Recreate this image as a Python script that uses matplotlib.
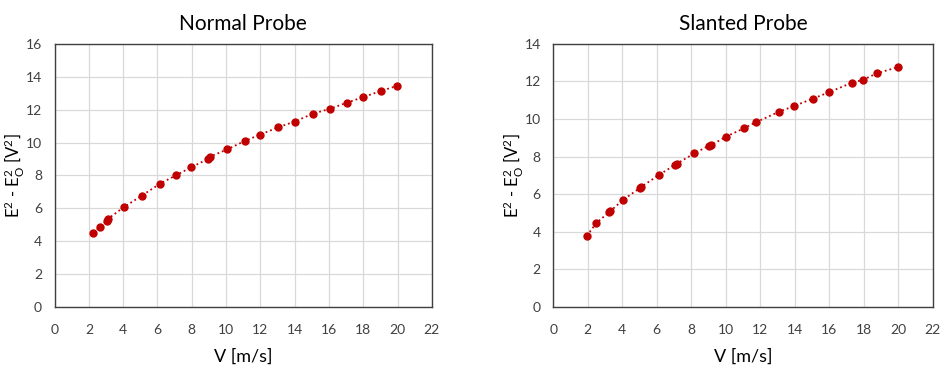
import matplotlib
matplotlib.use("Agg")
import matplotlib.pyplot as plt

plt.rcParams['font.family'] = ['Lato', 'DejaVu Sans']
plt.rcParams['mathtext.fontset'] = 'custom'
plt.rcParams['mathtext.rm'] = 'Lato'
plt.rcParams['mathtext.it'] = 'Lato:italic'

# Calibration data: velocity V [m/s] vs E^2 - E0^2 [V^2]
normal_v = [2.25, 2.62, 3.05, 3.10, 4.07, 5.10, 6.13, 7.06, 7.97, 8.96, 9.08,
            10.05, 11.08, 11.95, 13.02, 14.00, 15.05, 16.04, 17.03, 17.98, 19.03, 19.98]
normal_e = [4.52, 4.84, 5.25, 5.35, 6.10, 6.78, 7.49, 8.00, 8.50, 9.01, 9.15,
            9.58, 10.09, 10.47, 10.92, 11.28, 11.75, 12.05, 12.42, 12.76, 13.14, 13.45]

slanted_v = [1.94, 2.50, 3.21, 3.31, 4.03, 5.02, 5.11, 6.12, 7.07, 7.15, 8.17, 9.04,
             9.16, 10.03, 11.04, 11.75, 13.07, 13.98, 15.07, 16.00, 17.31, 17.97, 18.78, 19.98]
slanted_e = [3.79, 4.47, 5.03, 5.10, 5.69, 6.33, 6.40, 7.02, 7.57, 7.62, 8.17, 8.59,
             8.61, 9.07, 9.50, 9.83, 10.38, 10.70, 11.09, 11.43, 11.93, 12.09, 12.44, 12.76]

x_ticks = list(range(0, 23, 2))
normal_y_ticks = list(range(0, 17, 2))
slanted_y_ticks = list(range(0, 15, 2))

panels = [
    ("Normal Probe", normal_v, normal_e, normal_y_ticks, [0.058, 0.168, 0.401, 0.713]),
    ("Slanted Probe", slanted_v, slanted_e, slanted_y_ticks, [0.588, 0.168, 0.403, 0.713]),
]

fig = plt.figure(figsize=(9.41, 3.69), dpi=100)
red = '#c00000'

for title, v, e, yt, rect in panels:
    ax = fig.add_axes(rect)
    ax.plot(v, e, linestyle=':', color=red, linewidth=1.3, marker='o',
            markersize=5, markerfacecolor=red, markeredgecolor=red, zorder=3)
    ax.set_xlim(0, 22)
    ax.set_ylim(0, yt[-1])
    ax.set_xticks(x_ticks)
    ax.set_yticks(yt)
    ax.grid(True, color='#d9d9d9', linewidth=0.9)
    ax.set_axisbelow(True)
    for s in ax.spines.values():
        s.set_color('#404040')
        s.set_linewidth(1.0)
    ax.tick_params(length=0, labelsize=10, colors='#404040')
    ax.tick_params(axis='y', pad=9)
    ax.tick_params(axis='x', pad=12)
    ax.set_title(title, fontsize=15, pad=10, color='black')
    ax.set_xlabel('V [m/s]', fontsize=13, labelpad=9)
    ax.set_ylabel(r'E$^2$ - E$_\mathrm{O}^2$ [V$^2$]', fontsize=12)
    ax.yaxis.set_label_coords(-0.072, 0.5)

fig.savefig('out.png', dpi=100)
